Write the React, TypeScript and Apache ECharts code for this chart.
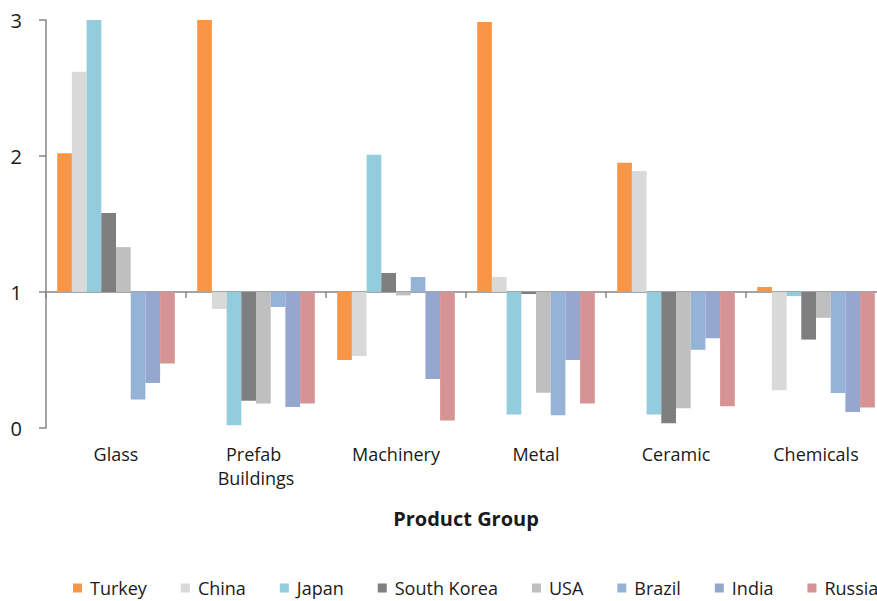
import React, { useEffect, useRef } from "react";
import * as echarts from "echarts";

const categories = ["Glass", "Prefab Buildings", "Machinery", "Metal", "Ceramic", "Chemicals"];
const yTicks = [0, 1, 2, 3];

const turkey = [2.02, 3.0, 0.5, 2.985, 1.95, 1.037];
const china = [2.62, 0.875, 0.53, 1.11, 1.89, 0.277];
const japan = [3.0, 0.02, 2.01, 0.1, 0.1, 0.97];
const southKorea = [1.58, 0.2, 1.14, 0.985, 0.035, 0.65];
const usa = [1.33, 0.18, 0.975, 0.26, 0.145, 0.81];
const brazil = [0.21, 0.89, 1.11, 0.093, 0.575, 0.257];
const india = [0.33, 0.155, 0.36, 0.5, 0.66, 0.118];
const russia = [0.475, 0.18, 0.056, 0.18, 0.16, 0.15];

const seriesNames = ["Turkey", "China", "Japan", "South Korea", "USA", "Brazil", "India", "Russia"];
const seriesValues = [turkey, china, japan, southKorea, usa, brazil, india, russia];
const colors = ["#F79646", "#D9D9D9", "#93CDDD", "#7F7F7F", "#BFBFBF", "#95B3D7", "#95A7CF", "#D59393"];

const BASE = 1;
const FONT = "'Open Sans', sans-serif";

export default function App() {
  const ref = useRef<HTMLDivElement>(null);
  useEffect(() => {
    document.body.style.margin = "0";
    document.body.style.overflow = "hidden";
    if (!ref.current) return;
    const chart = echarts.init(ref.current, undefined, { renderer: "svg" });
    chart.setOption({
      animation: false,
      backgroundColor: "#ffffff",
      textStyle: { fontFamily: FONT },
      grid: { left: 46, top: 20, width: 840, height: 408, containLabel: false },
      legend: {
        data: seriesNames,
        left: 68,
        top: 574,
        itemWidth: 9,
        itemHeight: 9,
        itemGap: 34,
        icon: "rect",
        textStyle: { fontFamily: FONT, fontSize: 18, color: "#1a1a1a", padding: [0, 0, 0, 3] },
      },
      xAxis: [
        {
          type: "category",
          data: categories,
          axisLine: { show: true, onZero: true, lineStyle: { color: "#868686", width: 1.5 } },
          axisTick: { show: true, interval: 0, length: 6, lineStyle: { color: "#868686", width: 1.5 } },
          axisLabel: { show: false },
          splitLine: { show: false },
        },
        {
          type: "category",
          data: categories,
          position: "bottom",
          axisLine: { show: false, onZero: false },
          axisTick: { show: false },
          axisLabel: {
            show: true,
            interval: 0,
            margin: 14,
            width: 120,
            overflow: "break",
            fontFamily: FONT,
            fontSize: 18,
            lineHeight: 24,
            color: "#1a1a1a",
          },
          name: "Product Group",
          nameLocation: "middle",
          nameGap: 80,
          nameTextStyle: { fontFamily: FONT, fontSize: 20, fontWeight: "bold", color: "#1a1a1a" },
        },
      ],
      yAxis: {
        type: "value",
        min: yTicks[0] - BASE,
        max: yTicks[yTicks.length - 1] - BASE,
        interval: 1,
        axisLine: { show: true, lineStyle: { color: "#868686", width: 1.5 } },
        axisTick: { show: true, length: 7, lineStyle: { color: "#868686", width: 1.5 } },
        axisLabel: {
          margin: 24,
          fontFamily: FONT,
          fontSize: 20,
          color: "#1a1a1a",
          formatter: (v: number) => String(Math.round(v + BASE)),
        },
        splitLine: { show: false },
      },
      series: seriesNames.map((name, i) => ({
        name,
        type: "bar",
        xAxisIndex: 0,
        barGap: "0%",
        barCategoryGap: "16%",
        itemStyle: { color: colors[i] },
        data: seriesValues[i].map((v) => +(v - BASE).toFixed(4)),
      })),
    });
    return () => chart.dispose();
  }, []);
  return (
    <div style={{ position: "fixed", left: 0, top: 0, width: 877, height: 601, overflow: "hidden", background: "#fff" }}>
      <div ref={ref} style={{ width: 900, height: 601 }} />
    </div>
  );
}
